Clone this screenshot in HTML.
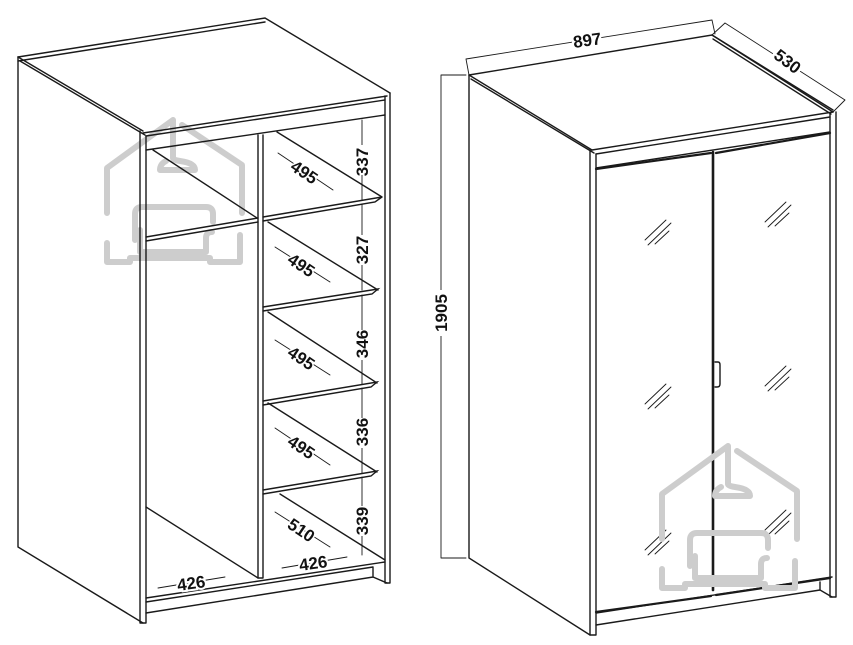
<!DOCTYPE html>
<html><head><meta charset="utf-8"><style>
html,body{margin:0;padding:0;background:#fff;}
svg{display:block;}
text{font-family:"Liberation Sans",Arial,sans-serif;font-size:17px;font-weight:bold;fill:#111;}
</style></head><body>
<svg width="853" height="645" viewBox="0 0 853 645" xmlns="http://www.w3.org/2000/svg">
<defs>
<g id="logo" fill="none" stroke="#cdcdcd" stroke-width="6" stroke-linecap="round" stroke-linejoin="round">
  <path d="M107,213 V168 L173,120 V158 Q173,160 180,161 Q195,163 195,170 H160 Q160,164 166,161"/>
  <path d="M182,125 L242,165 V213"/>
  <path d="M135,240 V214 Q135,207 142,207 H206 Q213,207 213,214 V222"/>
  <path d="M140,230 V252 H206 V238 Q206,232 212,232"/>
  <path d="M107,243 V262 H130 V258 H210 V262 H240 V235"/>
</g>
</defs>
<use href="#logo"/>
<g stroke="#1a1a1a" stroke-width="1.4" fill="none" stroke-linecap="round">
<!-- LEFT CABINET -->
<path d="M18,57 L265,18 L390,93"/>
<path d="M18,61 L265,22"/>
<path d="M18,57 L143,131 M20,61 L145,135"/>
<path d="M143,133 L387,96 M146,136 L385,100"/>
<path d="M146,150 L385,115"/>
<path d="M18,57 V547 L143,623"/>
<path d="M140,131 V623 M146,136 V623 M140,623 H146"/>
<path d="M385,96 V583 M390,93 V583 M385,583 H390"/>
<path d="M258,135 V578 M263,135 V578 M258,578 H263"/>
<path d="M153,150 L257,218"/>
<path d="M146,237 L258,218 M146,241 L258,222"/>
<path d="M146,507 L258,578"/>
<path d="M146,598 L385,562 M146,602 L373,567 M146,613 L373,577 L387,583 M373,567 V577"/>
<path d="M277,132 L382,197 M263,217 L382,197 L375,202 L263,221"/>
<path d="M268,222 L378,290 M263,307 L378,289 L372,294 L263,311"/>
<path d="M268,312 L377,383 M263,401 L377,382 L371,387 L263,405"/>
<path d="M268,403 L377,472 M263,490 L377,471 L371,476 L263,494"/>
<path d="M280,494 L385,560"/>
<g stroke-width="0.9">
<path d="M362,120 V200 M362,204 V290 M362,295 V384 M362,388 V473 M362,477 V555"/>
<path d="M278,153 L333,190 M275,247 L330,282 M275,340 L330,375 M275,428 L330,465 M275,512 L330,547"/>
<path d="M158,588 L225,577 M282,568 L347,557"/>
</g>
</g>
<g fill="#fff">
<rect x="354" y="145" width="16" height="30"/>
<rect x="354" y="235" width="16" height="30"/>
<rect x="354" y="330" width="16" height="30"/>
<rect x="354" y="418" width="16" height="30"/>
<rect x="354" y="506" width="16" height="30"/>
</g>
<g>
<text transform="translate(368,162) rotate(-90)" text-anchor="middle">337</text>
<text transform="translate(368,250) rotate(-90)" text-anchor="middle">327</text>
<text transform="translate(368,344) rotate(-90)" text-anchor="middle">346</text>
<text transform="translate(368,432) rotate(-90)" text-anchor="middle">336</text>
<text transform="translate(368,521) rotate(-90)" text-anchor="middle">339</text>
<text transform="translate(301,177) rotate(34)" text-anchor="middle" style="paint-order:stroke;stroke:#fff;stroke-width:3px">495</text>
<text transform="translate(298,270) rotate(34)" text-anchor="middle" style="paint-order:stroke;stroke:#fff;stroke-width:3px">495</text>
<text transform="translate(298,363) rotate(34)" text-anchor="middle" style="paint-order:stroke;stroke:#fff;stroke-width:3px">495</text>
<text transform="translate(298,452) rotate(34)" text-anchor="middle" style="paint-order:stroke;stroke:#fff;stroke-width:3px">495</text>
<text transform="translate(298,535) rotate(34)" text-anchor="middle" style="paint-order:stroke;stroke:#fff;stroke-width:3px">510</text>
<text transform="translate(192,589) rotate(-8)" text-anchor="middle" style="paint-order:stroke;stroke:#fff;stroke-width:4px">426</text>
<text transform="translate(314,569) rotate(-8)" text-anchor="middle" style="paint-order:stroke;stroke:#fff;stroke-width:4px">426</text>
</g>

<!-- RIGHT CABINET -->
<g stroke="#1a1a1a" stroke-width="1.4" fill="none" stroke-linecap="round">
<path d="M469,75 L712,35 L833,112"/>
<path d="M469,75 L592,150 M471,79 L594,153"/>
<path d="M712,35 L833,110 M713,39 L831,114"/>
<path d="M592,150 L833,112 M596,154 L830,117"/>
<path d="M596,168 L830,132"/>
<path d="M469,75 V558 L590,635"/>
<path d="M590,150 V635 M596,154 V635 M590,635 H596"/>
<path d="M830,114 V597 M836,112 V597 M830,597 H836"/>
<path d="M596,613 L832,577 M596,625 L820,590 M820,582 V590 L832,597"/>
<g stroke-width="0.9">
<path d="M441,75 V558 M441,75 H466 M441,558 H466"/>
<path d="M466,59 L712,20 M466,59 L469,75 M712,20 L715,34"/>
<path d="M725,23 L845,100 M712,35 L725,23 M833,112 L845,100"/>
</g>
<path d="M713,152 V590" stroke-width="2.6"/>
<path d="M596,169 L711,153 M716,153 L830,133" stroke-width="2.2"/>
<path d="M596,612 L711,596 M716,595 L830,578" stroke-width="2.2"/>
<path d="M715,362 H718 Q720,362 720,365 V384 Q720,387 717,387 H715"/>
<g stroke-width="0.9">
<g id="gl"><path d="M645,240 L666,220 M648,245 L671,223 M655,244 L669,231"/></g>
<use href="#gl" transform="translate(120,-18)"/>
<use href="#gl" transform="translate(0,164)"/>
<use href="#gl" transform="translate(120,146)"/>
<use href="#gl" transform="translate(0,310)"/>
<use href="#gl" transform="translate(120,290)"/>
</g>
</g>
<rect x="432" y="290" width="18" height="46" fill="#fff"/>
<text transform="translate(447,313) rotate(-90)" text-anchor="middle" font-size="18">1905</text>
<text transform="translate(588,46) rotate(-8)" text-anchor="middle" font-size="18" style="paint-order:stroke;stroke:#fff;stroke-width:5px">897</text>
<text transform="translate(784,66) rotate(37)" text-anchor="middle" font-size="18" style="paint-order:stroke;stroke:#fff;stroke-width:5px">530</text>
<use href="#logo" transform="translate(555,326)"/>
</svg>
</body></html>
